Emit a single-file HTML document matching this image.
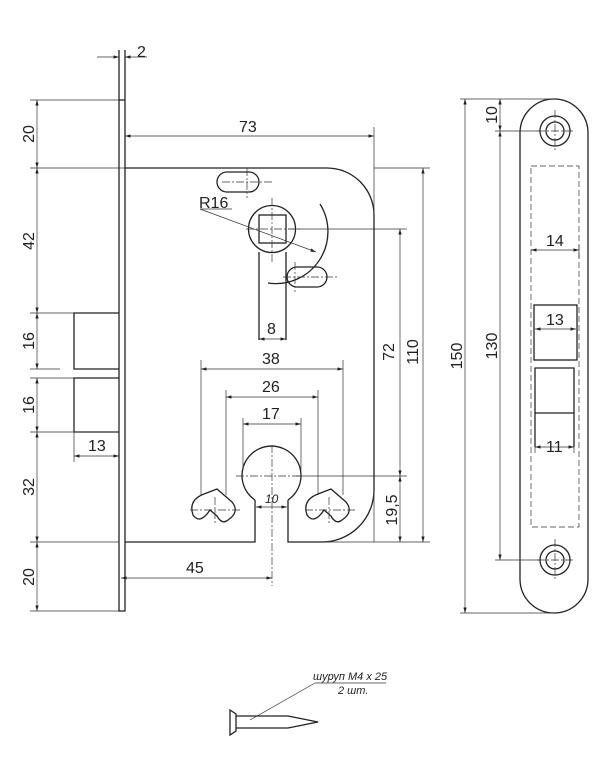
<!DOCTYPE html>
<html><head><meta charset="utf-8"><style>
body{margin:0;background:#fff}
svg{display:block}
text{font-family:"Liberation Sans",sans-serif;font-size:16px;fill:#222}
</style></head><body>
<svg width="615" height="773" viewBox="0 0 615 773" xmlns="http://www.w3.org/2000/svg">
<defs>
<marker id="a" viewBox="0 0 10 6" refX="10" refY="3" markerWidth="8" markerHeight="5" orient="auto-start-reverse"><path d="M0,0L10,3L0,6z" fill="#222"/></marker>
</defs>
<g stroke="#222" fill="none" stroke-width="1.3">
<path d="M119,50V611H125V50"/>
<line x1="119" y1="100" x2="125" y2="100"/>
<path d="M125,168H327A47,47 0 0 1 374,215V490A52,52 0 0 1 322,542H288V500"/>
<path d="M125,542H255V500"/>
<path d="M255,500A29.5,29.5 0 1 1 288,500"/>
<path d="M119,313H74V369H119M119,378H74V432H119"/>
<rect x="217" y="172" width="42" height="20" rx="10"/>
<rect x="287" y="267" width="40" height="20" rx="10"/>
<circle cx="272" cy="229" r="23.5"/>
<rect x="259" y="215" width="27" height="28"/>
<path d="M259,252V340M286,252V340"/>
<path d="M320,204A52,52 0 0 1 268,283"/>
<path d="M204,494L217,489L232,502Q240,512 228,520Q222,525 217,516L210,510Q200,525 193,515Q188,500 204,494z"/>
<path d="M318,494L331,489L346,502Q354,512 342,520Q336,525 331,516L324,510Q314,525 307,515Q302,500 318,494z"/>
<rect x="520" y="99" width="68" height="514" rx="34"/>
<circle cx="555" cy="131" r="15"/><circle cx="555" cy="131" r="9"/>
<circle cx="555" cy="560" r="15"/><circle cx="555" cy="560" r="9"/>
<rect x="534" y="305" width="43" height="55"/>
<path d="M535,447V368H574V447M535,413H574"/>
<path d="M230,710L236,714V731L230,735z"/>
<path d="M236,716H288L318,722L288,728H236"/>
</g>
<g stroke="#333" fill="none" stroke-width="0.7">
<rect x="531" y="166" width="48" height="361" stroke-dasharray="6,3"/>
<path d="M30,100H119M30,168H125M30,313H74M30,369H60M30,378H74M30,432H119M30,542H119M30,611H119"/>
<path d="M374,127V215M374,542V490M322,542H430M288,229H407M296,476H407M374,168H430"/>
<path d="M201,360V495M343,360V495M226,390V495M318,390V495M243,418V470M301,418V470M74,432V462"/>
<path d="M460,99H555M460,613H555M495,131H540M495,560H540M579,245V258M535,447V453M574,447V453"/>
<path d="M272,198V262M246,229H300M247,168V198M222,182H272M295,262V292M283,277H337M236,476H300M272,445V586M190,510H240M305,510H355M215,497V525M329,497V525M555,110V152M537,131H573M555,539V581M537,560H573" stroke-dasharray="8,2,2,2"/>
<g marker-start="url(#a)" marker-end="url(#a)">
<line x1="37" y1="100" x2="37" y2="168"/><line x1="37" y1="168" x2="37" y2="313"/>
<line x1="37" y1="313" x2="37" y2="369"/><line x1="37" y1="378" x2="37" y2="432"/>
<line x1="37" y1="432" x2="37" y2="542"/><line x1="37" y1="542" x2="37" y2="611"/>
<line x1="125" y1="136" x2="374" y2="136"/>
<line x1="259" y1="339" x2="286" y2="339"/>
<line x1="201" y1="369" x2="343" y2="369"/><line x1="226" y1="397" x2="318" y2="397"/>
<line x1="243" y1="424" x2="301" y2="424"/><line x1="256" y1="507" x2="287" y2="507"/>
<line x1="74" y1="456" x2="119" y2="456"/><line x1="121" y1="578" x2="272" y2="578"/>
<line x1="400" y1="229" x2="400" y2="476"/><line x1="400" y1="476" x2="400" y2="542"/>
<line x1="423" y1="168" x2="423" y2="542"/>
<line x1="465" y1="99" x2="465" y2="613"/><line x1="500" y1="99" x2="500" y2="131"/>
<line x1="500" y1="131" x2="500" y2="560"/>
<line x1="531" y1="250" x2="579" y2="250"/><line x1="535" y1="329" x2="576" y2="329"/>
<line x1="535" y1="447" x2="574" y2="447"/>
</g>
<line x1="97" y1="57" x2="119" y2="57" marker-end="url(#a)"/>
<line x1="147" y1="57" x2="125" y2="57" marker-end="url(#a)"/>
<line x1="200" y1="209" x2="316" y2="252" marker-end="url(#a)"/>
<line x1="200" y1="209" x2="232" y2="209"/>
<path d="M315,683H386M315,683L250,720"/>
</g>
<text x="137" y="57">2</text>
<text x="239" y="132">73</text>
<text x="199" y="208">R16</text>
<text x="267" y="334">8</text>
<text x="262" y="364">38</text>
<text x="262" y="392">26</text>
<text x="262" y="419">17</text>
<text x="88" y="451">13</text>
<text x="186" y="573">45</text>
<text x="265" y="503" font-style="italic" style="font-size:12px">10</text>
<text x="546" y="246">14</text>
<text x="546" y="325">13</text>
<text x="546" y="452">11</text>
<text transform="translate(34,134) rotate(-90)" text-anchor="middle">20</text>
<text transform="translate(34,241) rotate(-90)" text-anchor="middle">42</text>
<text transform="translate(34,341) rotate(-90)" text-anchor="middle">16</text>
<text transform="translate(34,405) rotate(-90)" text-anchor="middle">16</text>
<text transform="translate(34,487) rotate(-90)" text-anchor="middle">32</text>
<text transform="translate(34,577) rotate(-90)" text-anchor="middle">20</text>
<text transform="translate(394,352) rotate(-90)" text-anchor="middle">72</text>
<text transform="translate(418,352) rotate(-90)" text-anchor="middle">110</text>
<text transform="translate(397,510) rotate(-90)" text-anchor="middle">19,5</text>
<text transform="translate(462,356) rotate(-90)" text-anchor="middle">150</text>
<text transform="translate(497,346) rotate(-90)" text-anchor="middle">130</text>
<text transform="translate(497,115) rotate(-90)" text-anchor="middle">10</text>
<text x="313" y="680" font-style="italic" style="font-size:11px">шуруп М4 x 25</text>
<text x="338" y="694" font-style="italic" style="font-size:11px">2 шт.</text>
</svg>
</body></html>
